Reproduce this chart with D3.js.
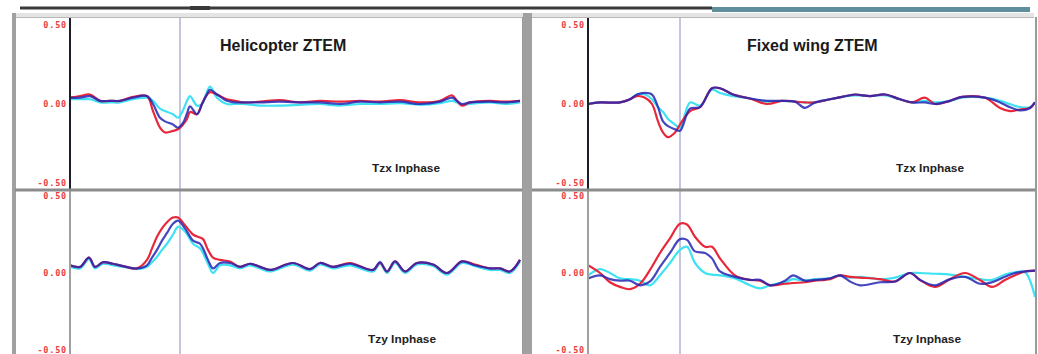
<!DOCTYPE html>
<html><head><meta charset="utf-8">
<script src="https://cdn.jsdelivr.net/npm/d3@7"></script>
<style>
html,body{margin:0;padding:0;background:#fff;}
svg{display:block;}
</style></head>
<body>
<svg id="c" width="1038" height="354"></svg>
<script>
// ---------- DATA ----------
const panelTitles = ["Helicopter ZTEM", "Fixed wing ZTEM"];
const subplotLabels = ["Tzx Inphase", "Tzy Inphase"];
const yTickValues = [0.5, 0, -0.5];
const yTickLabels = ["0.50", "0.00", "-0.50"];
const cursorFid = [110, 92];

// Helicopter Tzx
const heliTzxX    = [0,10,20,30,40,50,63,77,83,90,95,103,108,113,117,120,127,132,136,140,147,157,165,173,190,210,230,250,270,290,310,330,350,370,382,387,392,400,420,435,450];
const heliTzxRed  = [0.04,0.05,0.06,0.02,0.02,0.02,0.045,0.05,-0.045,-0.15,-0.18,-0.17,-0.16,-0.13,-0.095,-0.05,-0.065,0.00,0.05,0.075,0.06,0.03,0.02,0.01,0.015,0.025,0.01,0.02,0.015,0.02,0.015,0.025,0.01,0.02,0.055,0.02,-0.01,0.01,0.02,0.015,0.02];
const heliTzxBlue = [0.04,0.04,0.05,0.02,0.02,0.02,0.04,0.05,0.00,-0.087,-0.11,-0.13,-0.15,-0.12,-0.06,-0.015,-0.065,0.00,0.05,0.09,0.06,0.02,0.01,0.01,0.01,0.015,0.01,0.01,0.00,0.015,0.01,0.015,0.00,0.015,0.04,0.02,0.00,0.01,0.015,0.01,0.02];
const heliTzxCyan = [0.03,0.03,0.03,0.01,0.01,0.01,0.03,0.04,0.02,-0.03,-0.045,-0.065,-0.087,-0.04,0.02,0.05,-0.01,0.00,0.06,0.11,0.04,0.00,0.00,0.00,-0.01,-0.01,-0.005,0.00,-0.01,0.00,0.00,0.005,-0.005,0.005,0.02,0.01,-0.005,0.00,0.01,0.00,0.01];

// Helicopter Tzy
const heliTzyX    = [0,10,19,25,33,43,53,67,77,82,87,92,97,103,108,115,123,130,133,138,143,150,160,170,180,190,200,223,240,250,263,280,303,310,317,325,335,347,363,377,392,405,420,430,440,450];
const heliTzyRed  = [0.05,0.04,0.10,0.04,0.07,0.06,0.045,0.03,0.085,0.16,0.235,0.29,0.33,0.36,0.36,0.31,0.25,0.23,0.22,0.15,0.10,0.085,0.075,0.04,0.06,0.04,0.02,0.065,0.025,0.065,0.04,0.065,0.02,0.065,0.01,0.075,0.01,0.065,0.055,0.00,0.075,0.055,0.03,0.03,0.01,0.085];
const heliTzyBlue = [0.05,0.04,0.10,0.04,0.07,0.06,0.045,0.03,0.05,0.10,0.15,0.21,0.26,0.32,0.34,0.29,0.21,0.19,0.16,0.085,0.03,0.065,0.065,0.04,0.06,0.04,0.02,0.065,0.025,0.065,0.04,0.06,0.02,0.07,0.01,0.075,0.01,0.065,0.055,0.00,0.075,0.05,0.03,0.03,0.01,0.085];
const heliTzyCyan = [0.04,0.03,0.09,0.03,0.06,0.05,0.04,0.025,0.04,0.07,0.105,0.15,0.19,0.25,0.30,0.27,0.19,0.16,0.13,0.06,0.00,0.05,0.05,0.03,0.05,0.03,0.01,0.055,0.015,0.055,0.03,0.05,0.01,0.06,0.00,0.065,0.00,0.055,0.045,-0.01,0.065,0.045,0.02,0.02,0.00,0.075];

// Fixed wing Tzx
const fwTzxX    = [0,12,32,42,49,57,64,70,75,80,87,92,102,112,124,132,145,162,179,194,207,217,227,242,254,267,282,297,312,324,337,347,362,374,397,412,422,432,442,447];
const fwTzxRed  = [0.00,0.01,0.01,0.03,0.05,0.04,0.00,-0.11,-0.18,-0.21,-0.18,-0.13,-0.045,-0.02,0.10,0.10,0.06,0.035,0.00,0.02,0.015,0.01,0.01,0.03,0.045,0.06,0.05,0.06,0.03,0.01,0.04,0.00,0.02,0.045,0.04,-0.025,-0.045,-0.035,-0.025,0.01];
const fwTzxBlue = [0.00,0.01,0.01,0.03,0.06,0.07,0.06,-0.02,-0.11,-0.14,-0.16,-0.17,-0.03,-0.02,0.10,0.10,0.06,0.035,0.02,0.02,0.015,-0.025,0.01,0.03,0.045,0.06,0.05,0.06,0.03,0.01,0.01,0.00,0.02,0.045,0.04,0.01,-0.02,-0.04,-0.025,0.01];
const fwTzxCyan = [0.00,0.01,0.01,0.03,0.06,0.06,0.03,-0.02,-0.05,-0.095,-0.13,-0.15,0.01,-0.01,0.09,0.07,0.05,0.035,0.015,0.02,0.015,0.01,0.01,0.03,0.045,0.055,0.05,0.055,0.03,0.01,0.02,0.01,0.02,0.04,0.04,0.02,0.00,-0.02,-0.02,0.01];

// Fixed wing Tzy
const fwTzyX    = [0,12,22,32,42,52,62,72,82,92,99,107,117,124,132,147,162,172,182,197,205,217,227,242,252,262,272,292,307,322,332,347,362,377,392,404,417,427,437,447];
const fwTzyRed  = [0.05,0.00,-0.06,-0.09,-0.105,-0.07,0.02,0.13,0.225,0.32,0.315,0.235,0.17,0.17,0.095,-0.015,-0.045,-0.05,-0.08,-0.07,-0.065,-0.06,-0.05,-0.04,-0.015,-0.025,-0.03,-0.04,-0.055,0.00,-0.045,-0.09,-0.04,0.00,-0.045,-0.09,-0.045,-0.015,0.01,0.015];
const fwTzyBlue = [-0.035,-0.015,-0.04,-0.05,-0.05,-0.08,-0.055,0.04,0.13,0.22,0.215,0.14,0.13,0.095,0.01,-0.025,-0.045,-0.045,-0.08,-0.05,-0.015,-0.05,-0.045,-0.035,-0.015,-0.055,-0.08,-0.06,-0.055,0.00,-0.045,-0.08,-0.04,-0.025,-0.07,-0.06,-0.025,0.00,0.01,0.015];
const fwTzyCyan = [-0.015,0.025,0.00,-0.035,-0.04,-0.05,-0.08,-0.015,0.065,0.15,0.17,0.065,0.00,-0.01,-0.015,-0.035,-0.08,-0.10,-0.08,-0.06,-0.04,-0.05,-0.04,-0.035,-0.015,-0.03,-0.025,-0.04,-0.03,0.00,0.00,-0.005,-0.01,-0.025,-0.04,-0.045,-0.01,0.005,0.005,-0.155];

// ---------- LAYOUT ----------
const svg = d3.select("#c");
const colors = {red:"#e8283a", blue:"#2626b4", cyan:"#3ee2f2"};

// window chrome
svg.append("rect").attr("x",20).attr("y",6.5).attr("width",692).attr("height",3).attr("fill","#3a3a3a");
svg.append("rect").attr("x",190).attr("y",6).attr("width",20).attr("height",4).attr("fill","#3a3a3a");
svg.append("rect").attr("x",712).attr("y",7).attr("width",318).attr("height",5).attr("fill","#5f8f9c");
svg.append("rect").attr("x",12).attr("y",13).attr("width",1022).attr("height",4).attr("fill","#e4e4e4");
svg.append("line").attr("x1",12).attr("x2",1034).attr("y1",17.5).attr("y2",17.5).attr("stroke","#b8b8b8").attr("stroke-width",1);

const panels = [
  {left:12, axisX:70, right:523, fidMax:450, title:panelTitles[0], titleX:220,
   data:[[heliTzxX,heliTzxRed,heliTzxBlue,heliTzxCyan],[heliTzyX,heliTzyRed,heliTzyBlue,heliTzyCyan]], labelX:[372,368]},
  {left:523, axisX:588, right:1036, fidMax:447, title:panelTitles[1], titleX:747,
   data:[[fwTzxX,fwTzxRed,fwTzxBlue,fwTzxCyan],[fwTzyX,fwTzyRed,fwTzyBlue,fwTzyCyan]], labelX:[896,893]}
];
const subs = [
  {top:18, bottom:190, yRange:[183,25], axisColor:"#1e1e2a", labelY:172},
  {top:190, bottom:354, yRange:[350,196], axisColor:"#a0a0a0", labelY:343}
];

panels.forEach((p,pi)=>{
  const x = d3.scaleLinear().domain([0,p.fidMax]).range([p.axisX, p.axisX + (p.fidMax)]);
  // left border band
  svg.append("rect").attr("x",p.left).attr("y",13).attr("width", pi===0?4:9).attr("height",341).attr("fill","#a0a0a0");

  subs.forEach((s,si)=>{
    const y = d3.scaleLinear().domain([-0.5,0.5]).range(s.yRange);
    const cid = "clip"+pi+si;
    svg.append("clipPath").attr("id",cid).append("rect")
      .attr("x",p.axisX).attr("y",s.top).attr("width",p.right-p.axisX).attr("height",s.bottom-s.top);

    // cursor line
    svg.append("line").attr("x1",x(cursorFid[pi])).attr("x2",x(cursorFid[pi]))
      .attr("y1",s.top).attr("y2",s.bottom).attr("stroke","#a9aed0").attr("stroke-width",1.4);

    const [xs, r, b, c] = p.data[si];
    const line = vals => d3.line().x((d,i)=>x(xs[i])).y(d=>y(d)).curve(d3.curveCatmullRom.alpha(0.5))(vals);
    const g = svg.append("g").attr("clip-path","url(#"+cid+")");
    g.append("path").attr("d",line(c)).attr("fill","none").attr("stroke",colors.cyan).attr("stroke-width",2.2);
    g.append("path").attr("d",line(r)).attr("fill","none").attr("stroke",colors.red).attr("stroke-width",2.2);
    g.append("path").attr("d",line(b)).attr("fill","none").attr("stroke",colors.blue).attr("stroke-width",2.2).attr("stroke-opacity",0.85);

    // y axis labels
    const ax = svg.append("g").attr("transform","translate("+(p.axisX-1)+",0)")
      .call(d3.axisLeft(y).tickValues(yTickValues).tickFormat((d,i)=>yTickLabels[i]).tickSize(0).tickPadding(2));
    ax.select(".domain").remove();
    ax.selectAll("text").attr("fill","#ec4040").style("font-family","DejaVu Sans Mono, monospace")
      .style("font-size","8.5px").style("font-weight","bold").style("letter-spacing","0.8px").attr("dy","0.35em");

    // axis line
    svg.append("line").attr("x1",p.axisX).attr("x2",p.axisX).attr("y1",s.top).attr("y2",s.bottom)
      .attr("stroke",s.axisColor).attr("stroke-width",2);

    // subplot label
    svg.append("text").attr("x",p.labelX[si]).attr("y",s.labelY).text(subplotLabels[si])
      .attr("textLength",68).attr("lengthAdjust","spacingAndGlyphs")
      .style("font-family","Liberation Sans, Arial, sans-serif").style("font-weight","bold")
      .style("font-size","11px").attr("fill","#222");
  });

  // separator
  svg.append("rect").attr("x",p.left+(pi===0?3:9)).attr("y",188.5).attr("width",p.right-p.left-(pi===0?3:9)).attr("height",3).attr("fill","#8c8c8c");
  // right border line
  svg.append("line").attr("x1",p.right).attr("x2",p.right).attr("y1",17).attr("y2",354).attr("stroke","#9a9a9a").attr("stroke-width",2);
  // title
  svg.append("text").attr("x",p.titleX).attr("y",51).text(p.title)
    .style("font-family","Liberation Sans, Arial, sans-serif").style("font-weight","bold")
    .style("font-size","16px").attr("fill","#1a1a1a");
});
</script>
</body></html>
